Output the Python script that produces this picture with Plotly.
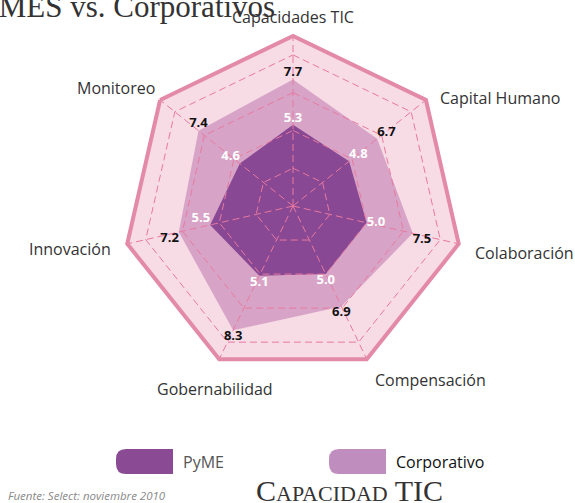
import plotly.graph_objects as go

categories = ["Capacidades TIC", "Capital Humano", "Colaboración", "Compensación",
              "Gobernabilidad", "Innovación", "Monitoreo"]
pyme = [5.3, 4.8, 5.0, 5.0, 5.1, 5.5, 4.6]
corp = [7.7, 6.7, 7.5, 6.9, 8.3, 7.2, 7.4]
radial_ticks = [3, 5, 7, 9]
r_min, r_max = 1, 10

corp_pos = ["top center", "top right", "bottom right", "bottom center",
            "bottom center", "bottom left", "top center"]
pyme_pos = ["top center", "top right", "middle right", "bottom center",
            "bottom center", "top left", "top left"]

# pixel centres of the category labels (layout only)
label_xy = [(293, 17), (500, 98), (524, 253), (430, 380), (215, 389), (70, 249), (116, 88)]

GRID = "#e8799f"
DASH = "7px,4px"


def closed(v):
    return list(v) + [v[0]]


fig = go.Figure()
# filled areas
fig.add_trace(go.Scatterpolar(
    r=closed(corp), theta=closed(categories), mode="lines", fill="toself",
    fillcolor="#d7a4c7", line=dict(width=0, color="#d7a4c7"),
    name="Corporativo", hoverinfo="skip"))
fig.add_trace(go.Scatterpolar(
    r=closed(pyme), theta=closed(categories), mode="lines", fill="toself",
    fillcolor="#894893", line=dict(width=0, color="#894893"),
    name="PyME", hoverinfo="skip"))
# dashed grid drawn above the areas
for t in radial_ticks:
    fig.add_trace(go.Scatterpolar(
        r=[t] * (len(categories) + 1), theta=closed(categories), mode="lines",
        line=dict(color=GRID, width=1, dash=DASH), hoverinfo="skip"))
for c in categories:
    fig.add_trace(go.Scatterpolar(
        r=[r_min, r_max], theta=[c, c], mode="lines",
        line=dict(color=GRID, width=1, dash=DASH), hoverinfo="skip"))
# value labels
fig.add_trace(go.Scatterpolar(
    r=corp, theta=categories, mode="text",
    text=[f"{v:.1f}" for v in corp], textposition=corp_pos,
    textfont=dict(family="Open Sans", size=13, color="#111111", weight="bold"),
    hoverinfo="skip"))
fig.add_trace(go.Scatterpolar(
    r=pyme, theta=categories, mode="text",
    text=[f"{v:.1f}" for v in pyme], textposition=pyme_pos,
    textfont=dict(family="Open Sans", size=13, color="#ffffff", weight="bold"),
    hoverinfo="skip"))

W, H = 575, 503
cx, cy, R = 293, 206, 170

fig.update_layout(
    width=W, height=H, autosize=False,
    margin=dict(l=0, r=0, t=0, b=0),
    paper_bgcolor="white",
    showlegend=False,
    polar=dict(
        domain=dict(x=[(cx - R) / W, (cx + R) / W], y=[1 - (cy + R) / H, 1 - (cy - R) / H]),
        gridshape="linear",
        bgcolor="#f7dbe5",
        radialaxis=dict(range=[r_min, r_max], tickvals=radial_ticks, showticklabels=False,
                        ticks="", showline=False, showgrid=False),
        angularaxis=dict(direction="clockwise", rotation=90, showline=True,
                         linecolor="#e48aa9", linewidth=4, showgrid=False, ticks="",
                         showticklabels=False, layer="above traces"),
    ),
)

annotations = [
    dict(text="PyMES vs. Corporativos", xref="paper", yref="paper", x=-36 / W, y=1 + 13 / H,
         xanchor="left", yanchor="top", showarrow=False,
         font=dict(family="Liberation Serif", size=31, color="#333333")),
    dict(text="C<span style='font-size:22px'>APACIDAD</span> TIC", xref="paper", yref="paper",
         x=349 / W, y=1 - 472 / H,
         xanchor="center", yanchor="top", showarrow=False,
         font=dict(family="Liberation Serif", size=30, color="#333333")),
    dict(text="Fuente: Select: noviembre 2010", xref="paper", yref="paper", x=6 / W, y=1 - 495 / H,
         xanchor="left", yanchor="middle", showarrow=False,
         font=dict(family="Open Sans", size=11.5, color="#888888", style="italic")),
    dict(text="PyME", xref="paper", yref="paper", x=181 / W, y=1 - 462 / H,
         xanchor="left", yanchor="middle", showarrow=False,
         font=dict(family="Open Sans", size=16, color="#555555")),
    dict(text="Corporativo", xref="paper", yref="paper", x=394 / W, y=1 - 462 / H,
         xanchor="left", yanchor="middle", showarrow=False,
         font=dict(family="Open Sans", size=16, color="#111111")),
]
for cat, (lx, ly) in zip(categories, label_xy):
    annotations.append(dict(text=cat, xref="paper", yref="paper", x=lx / W, y=1 - ly / H,
                            xanchor="center", yanchor="middle", showarrow=False,
                            font=dict(family="Open Sans", size=16, color="#333333")))
fig.update_layout(annotations=annotations)

swatch_path = "M 10,12.5 L 57,12.5 L 57,-12.5 L 10,-12.5 Q 0,-12.5 0,-2.5 L 0,2.5 Q 0,12.5 10,12.5 Z"
for x0, col in [(116, "#8b4a94"), (329, "#c08dbf")]:
    fig.add_shape(type="path", path=swatch_path, xref="paper", yref="paper",
                  xsizemode="pixel", ysizemode="pixel", xanchor=x0 / W, yanchor=1 - 461.5 / H,
                  fillcolor=col, line=dict(width=0))

fig.write_html("out.html", config={"displayModeBar": False},
               post_script="document.body.style.margin='0px';")
